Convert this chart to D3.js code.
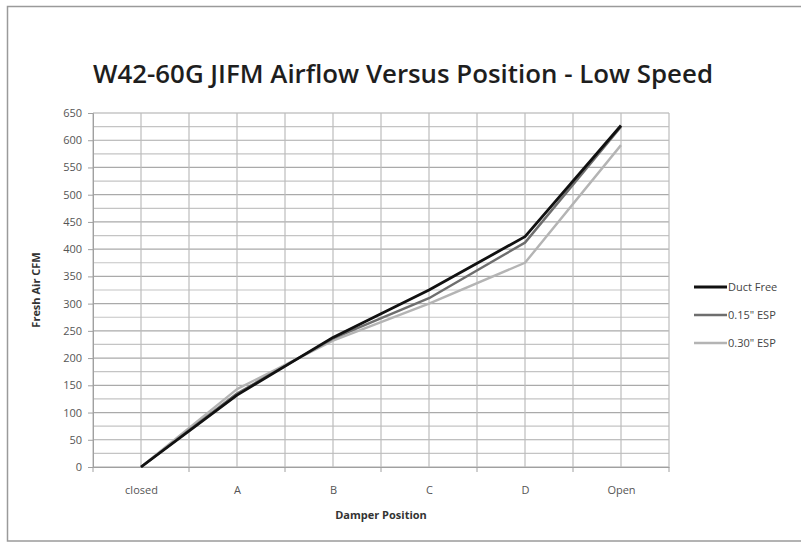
<!DOCTYPE html>
<html><head><meta charset="utf-8">
<script src="https://cdn.jsdelivr.net/npm/d3@7"></script>
<style>body{margin:0;background:#fff}svg{display:block}</style>
</head><body><svg id="c" width="801" height="542"></svg>
<script>
const categories = ["closed","A","B","C","D","Open"];
const ductFree = [0,132,238,325,423,627];
const esp015 = [0,135,236,310,412,625];
const esp030 = [0,143,232,300,375,591];
const yTicks = [0,50,100,150,200,250,300,350,400,450,500,550,600,650];
const seriesNames = ["Duct Free","0.15\" ESP","0.30\" ESP"];
const seriesColors = ["#111111","#6e6e6e","#b4b4b4"];

const svg = d3.select("#c");
const L=93,R=669,T=113,B=467;
svg.append("rect").attr("x",7.5).attr("y",6.5).attr("width",820).attr("height",534.5)
  .attr("fill","#fff").attr("stroke","#9a9a9a").attr("stroke-width",1.5);

const x = d3.scalePoint().domain(categories).range([L,R]).padding(0.5);
const step = x.step();
const y = d3.scaleLinear().domain([0,650]).range([B,T]);

const g = svg.append("g");
g.selectAll("line.h").data(d3.range(0,651,25)).join("line")
  .attr("x1",L).attr("x2",R).attr("y1",d=>y(d)).attr("y2",d=>y(d))
  .attr("stroke",d=>d%50===0?"#aaaaaa":"#c4c4c4").attr("stroke-width",1.2);
const vx = [];
categories.forEach((c,i)=>{vx.push(x(c)-step/2); vx.push(x(c));});
vx.push(R);
g.selectAll("line.v").data(vx).join("line")
  .attr("x1",d=>d).attr("x2",d=>d).attr("y1",T).attr("y2",B)
  .attr("stroke","#bcbcbc").attr("stroke-width",1.2);

const ya = svg.append("g").attr("transform",`translate(${L},0)`)
  .call(d3.axisLeft(y).tickValues(yTicks).tickSize(5).tickPadding(6));
ya.select(".domain").attr("stroke","#a0a0a0");
ya.selectAll(".tick line").attr("stroke","#a0a0a0");
ya.selectAll("text").attr("fill","#555").style("font-family","'Open Sans',sans-serif").style("font-size","11px");

const xa = svg.append("g").attr("transform",`translate(0,${B})`)
  .call(d3.axisBottom(x).tickSize(0).tickPadding(19));
xa.select(".domain").attr("stroke","#a0a0a0");
xa.selectAll("text").attr("fill","#555").style("font-family","'Open Sans',sans-serif").style("font-size","11px");
svg.append("g").selectAll("line").data(categories.map(c=>x(c)-step/2).concat([R])).join("line")
  .attr("x1",d=>d).attr("x2",d=>d).attr("y1",B).attr("y2",B+5).attr("stroke","#a0a0a0");

const line = d3.line().x((d,i)=>x(categories[i])).y(d=>y(d));
[esp030,esp015,ductFree].forEach((s,k)=>{
  const idx = 2-k;
  svg.append("path").datum(s).attr("d",line).attr("fill","none")
    .attr("stroke",seriesColors[idx]).attr("stroke-width",idx===0?2.8:2.4)
    .attr("stroke-linejoin","round");
});

svg.append("text").attr("x",403).attr("y",83).attr("text-anchor","middle")
  .style("font-family","'Open Sans',sans-serif").style("font-size","25px").style("font-weight","600")
  .attr("textLength",620).attr("lengthAdjust","spacingAndGlyphs")
  .attr("fill","#1e1e1e").text("W42-60G JIFM Airflow Versus Position - Low Speed");

svg.append("text").attr("x",381).attr("y",519).attr("text-anchor","middle")
  .style("font-family","'Open Sans',sans-serif").style("font-size","11px").style("font-weight","bold")
  .attr("fill","#333").text("Damper Position");
svg.append("text").attr("transform","translate(40,290) rotate(-90)").attr("text-anchor","middle")
  .style("font-family","'Open Sans',sans-serif").style("font-size","11px").style("font-weight","bold")
  .attr("fill","#333").text("Fresh Air CFM");

const lg = svg.append("g");
seriesNames.forEach((n,i)=>{
  const ly = 287 + i*28;
  lg.append("line").attr("x1",694).attr("x2",727).attr("y1",ly).attr("y2",ly)
    .attr("stroke",seriesColors[i]).attr("stroke-width",i===0?3:2.6);
  lg.append("text").attr("x",728).attr("y",ly+4)
    .style("font-family","'Open Sans',sans-serif").style("font-size","11px")
    .attr("fill","#444").text(n);
});
</script></body></html>
